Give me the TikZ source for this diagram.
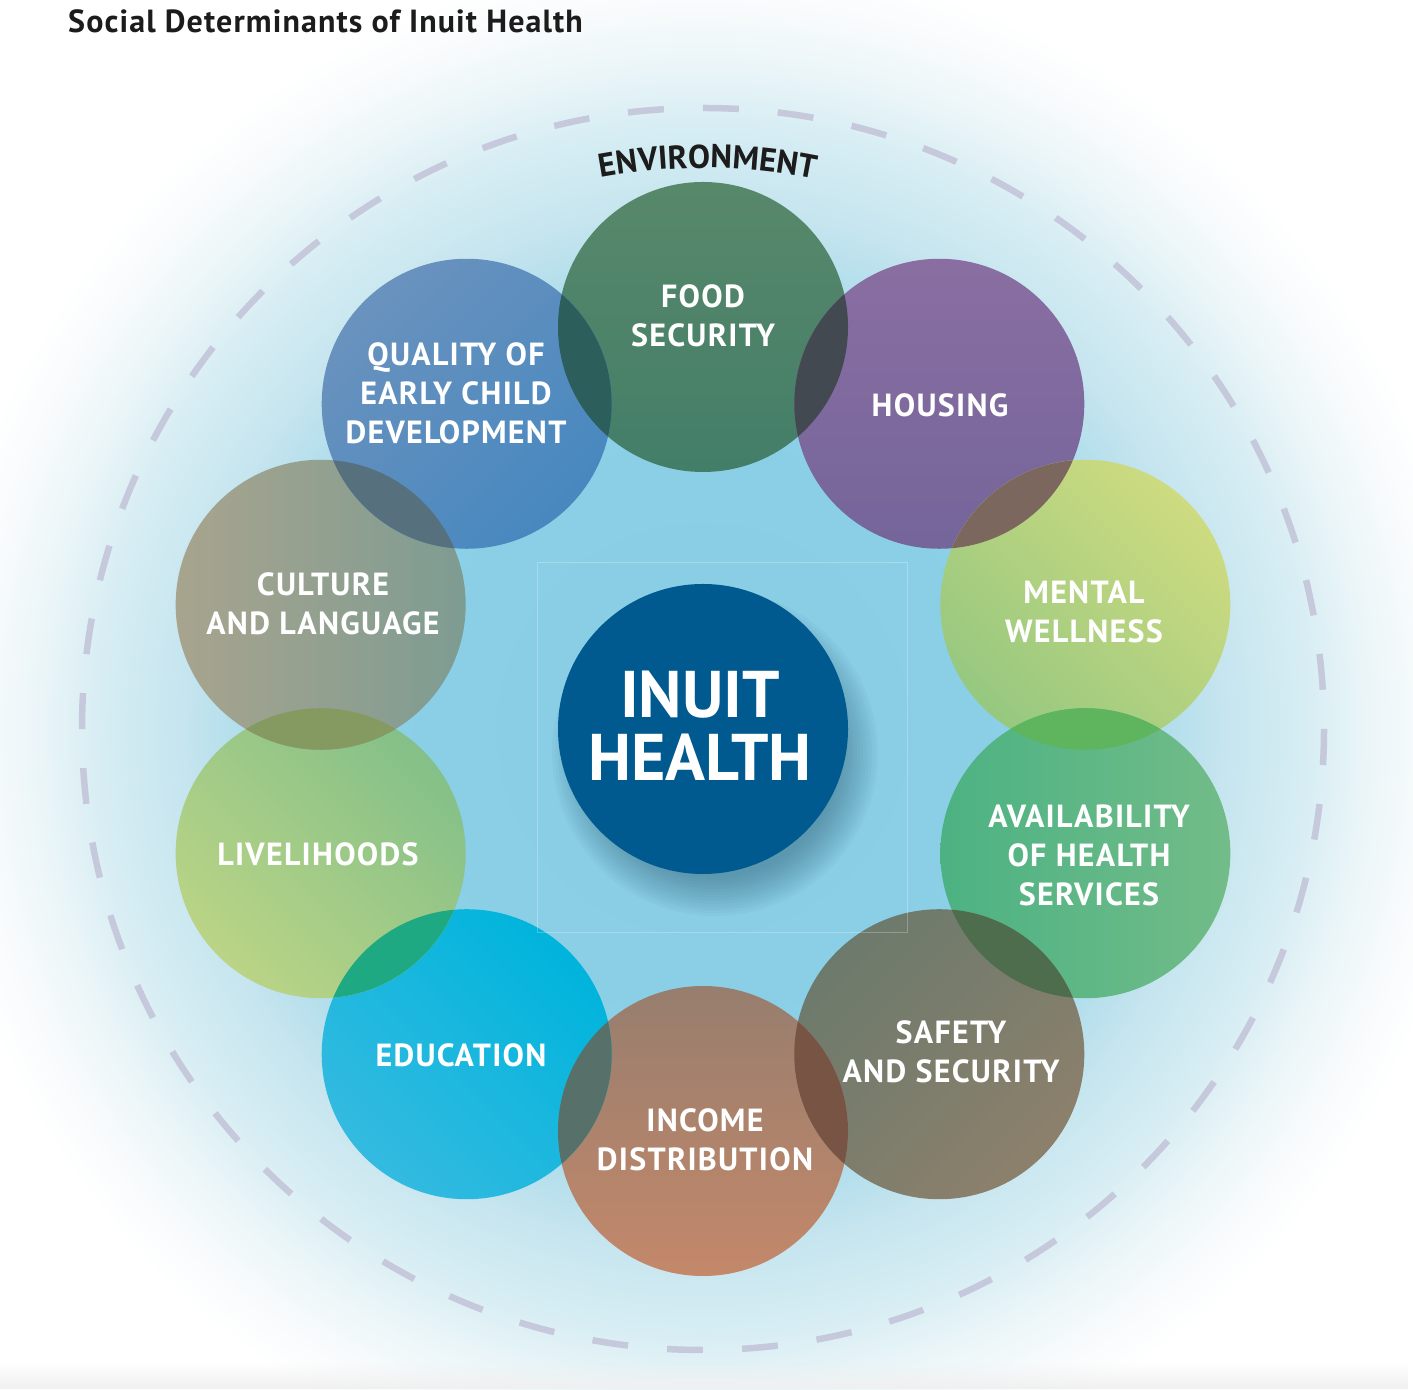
\documentclass[tikz,border=0pt]{standalone}
\usepackage{fontspec}
\setmainfont{PT Sans}
\newfontfamily\lblfam[LetterSpace=4.0]{PT Sans}
\newfontfamily\ttlfam[LetterSpace=3.5]{PT Sans}
\newfontfamily\envfam[LetterSpace=3.0]{PT Sans}
\usetikzlibrary{decorations.text,fadings}
\definecolor{glowa}{HTML}{86CCE4}
\definecolor{glowb}{HTML}{8CD0E6}
\definecolor{glowc}{HTML}{A8DAEA}
\definecolor{glowd}{HTML}{C6E5EF}
\definecolor{glowe}{HTML}{D6EDF3}
\definecolor{glowf}{HTML}{EAF5F8}
\definecolor{glowg}{HTML}{F8FBFC}
\pgfdeclareradialshading{bgglow}{\pgfpoint{0bp}{0bp}}{color(0bp)=(glowa); color(330bp)=(glowb); color(430bp)=(glowc); color(520bp)=(glowd); color(600bp)=(glowe); color(660bp)=(glowf); color(720bp)=(glowg); color(770bp)=(white); color(800bp)=(white)}
\definecolor{foodA}{HTML}{58886A}\definecolor{foodB}{HTML}{437E69}
\definecolor{housA}{HTML}{8A6EA2}\definecolor{housB}{HTML}{74659A}
\definecolor{qualA}{HTML}{6A92BE}\definecolor{qualB}{HTML}{4788BF}
\definecolor{cultA}{HTML}{A8A48E}\definecolor{cultB}{HTML}{7E9C92}
\definecolor{livA}{HTML}{BAD486}\definecolor{livB}{HTML}{84C088}
\definecolor{eduA}{HTML}{34BAE0}\definecolor{eduB}{HTML}{00B4DC}
\definecolor{incA}{HTML}{977E6E}\definecolor{incB}{HTML}{C4886A}
\definecolor{safeA}{HTML}{6C7A6C}\definecolor{safeB}{HTML}{8C806C}
\definecolor{availA}{HTML}{4CB283}\definecolor{availB}{HTML}{72BC88}
\definecolor{mentA}{HTML}{96C880}\definecolor{mentB}{HTML}{CEDB80}
\definecolor{inuitcol}{HTML}{005A8F}
\definecolor{shadowcol}{HTML}{2A5A70}
\definecolor{ovQF}{HTML}{2C5E5B}\definecolor{ovFH}{HTML}{434950}
\definecolor{ovHM}{HTML}{7C675E}\definecolor{ovMA}{HTML}{5FB45E}
\definecolor{ovAS}{HTML}{4E6D4D}\definecolor{ovSI}{HTML}{775444}
\definecolor{ovIE}{HTML}{58706A}\definecolor{ovEL}{HTML}{1FA982}
\definecolor{ovLC}{HTML}{859A61}\definecolor{ovCQ}{HTML}{56717D}
\definecolor{dashcol}{HTML}{C6C9DB}
\definecolor{inkcol}{HTML}{1C1C1C}
\newcommand\lblfont{\lblfam\bfseries\fontsize{32}{39}\selectfont}
\newcommand\bigfont{\bfseries\fontsize{66}{63}\selectfont}
\newcommand\envfont{\envfam\bfseries\fontsize{33}{33}\selectfont}
\newcommand\ttlfont{\ttlfam\bfseries\fontsize{32}{36}\selectfont}
\newcommand\overlap[3]{\begin{scope}\clip (#1.center) circle[radius=145pt];\fill[#3] (#2.center) circle[radius=145pt];\end{scope}}
\begin{document}
\begin{tikzpicture}[x=1pt,y=1pt,
  disc/.style={circle,inner sep=0pt,outer sep=0pt,minimum size=290pt},
  lbl/.style={text=white,font=\lblfont,align=center,inner sep=0pt},
  envdash/.style={draw=dashcol,line width=6.5pt,dash pattern=on 36pt off 39.04pt,dash phase=35.8pt}]
\useasboundingbox (0,0) rectangle (1413,1389);
\fill[white] (0,0) rectangle (1413,1389);
\begin{scope}
\clip (0,0) rectangle (1413,1389);
\node[inner sep=0pt,outer sep=0pt] (glow) at (703,660) {\pgfuseshading{bgglow}};
\end{scope}
\fill[black!6,path fading=north] (0,0) rectangle (1413,26);
\coordinate (C) at (703,660);
\draw[envdash] (C) circle[radius=621];
\path[decorate,decoration={text along path,text align=center,text color=inkcol,text={|\envfont|ENVIRONMENT}}]
  ([shift={(114.5:561)}]C) arc[start angle=114.5,end angle=64.5,radius=561];
\node[anchor=base west,inner sep=0pt,text=inkcol,font=\ttlfont] (title) at (68,1356) {Social Determinants of Inuit Health};
\begin{scope}[shift={(703,660)}]
\node[disc,top color=foodA,bottom color=foodB] (food) at (90:402) {};
\node[disc,top color=housA,bottom color=housB] (hous) at (54:402) {};
\node[disc,top color=mentB,bottom color=mentA,shading angle=-45] (ment) at (18:402) {};
\node[disc,left color=availA,right color=availB] (avail) at (-18:402) {};
\node[disc,top color=safeA,bottom color=safeB,shading angle=45] (safe) at (-54:402) {};
\node[disc,top color=incA,bottom color=incB] (inc) at (-90:402) {};
\node[disc,top color=eduB,bottom color=eduA,shading angle=-45] (edu) at (-126:402) {};
\node[disc,top color=livB,bottom color=livA,shading angle=-45] (liv) at (-162:402) {};
\node[disc,left color=cultA,right color=cultB] (cult) at (162:402) {};
\node[disc,top color=qualA,bottom color=qualB,shading angle=45] (qual) at (126:402) {};
\end{scope}
\overlap{food}{hous}{ovFH}
\overlap{hous}{ment}{ovHM}
\overlap{ment}{avail}{ovMA}
\overlap{avail}{safe}{ovAS}
\overlap{safe}{inc}{ovSI}
\overlap{inc}{edu}{ovIE}
\overlap{edu}{liv}{ovEL}
\overlap{liv}{cult}{ovLC}
\overlap{cult}{qual}{ovCQ}
\overlap{qual}{food}{ovQF}
\draw[white,opacity=0.25,line width=1pt] (537,456) rectangle (907,826);
\foreach \r in {124,127,...,163}
  \fill[shadowcol,opacity=0.04] ([shift={(12,-24)}]C) circle[radius=\r];
\node[disc,fill=inuitcol] (inuit) at (C) {};
\node[lbl] (foodL) at (703,1073) {FOOD\\SECURITY};
\node[lbl] (qualL) at (456,996) {QUALITY OF\\EARLY CHILD\\DEVELOPMENT};
\node[lbl] (housL) at (940,984) {HOUSING};
\node[lbl] (mentL) at (1084,777.5) {MENTAL\\WELLNESS};
\node[lbl] (availL) at (1089,534) {AVAILABILITY\\OF HEALTH\\SERVICES};
\node[lbl] (safeL) at (951,337) {SAFETY\\AND SECURITY};
\node[lbl] (incL) at (705,249) {INCOME\\DISTRIBUTION};
\node[lbl] (eduL) at (461,334) {EDUCATION};
\node[lbl] (livL) at (318,535) {LIVELIHOODS};
\node[lbl] (cultL) at (323,785.5) {CULTURE\\AND LANGUAGE};
\node[lbl,font=\bigfont] (inuitL) at (700,663) {INUIT\\HEALTH};
\end{tikzpicture}
\end{document}
